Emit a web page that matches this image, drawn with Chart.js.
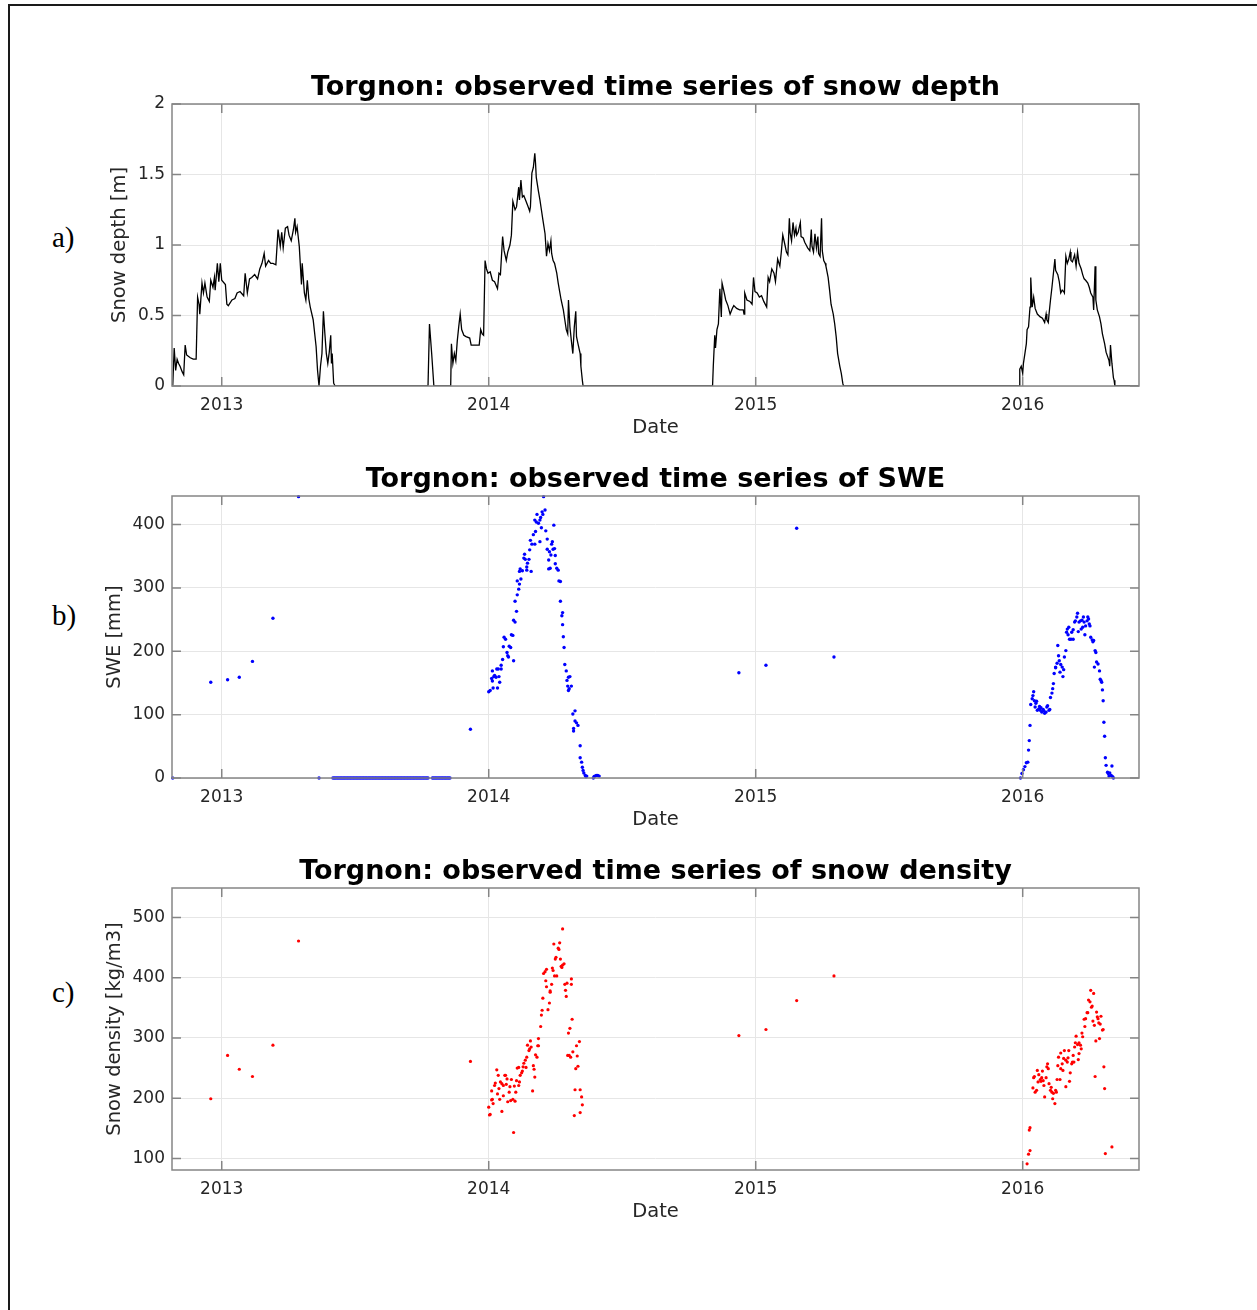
<!DOCTYPE html>
<html>
<head>
<meta charset="utf-8">
<title>Torgnon snow observations</title>
<script src="https://cdn.jsdelivr.net/npm/chart.js@4.4.0/dist/chart.umd.min.js"></script>
<style>
  body { margin: 0; background: #fff; }
  #page { position: relative; width: 1257px; height: 1310px; overflow: hidden; }
  #frame { position: absolute; left: 8px; top: 4px; width: 1300px; height: 1400px;
           border-top: 2px solid #1a1a1a; border-left: 2px solid #1a1a1a; }
  canvas { position: absolute; left: 0; }
  .tag { position: absolute; left: 52px; font: 29px/1 "Liberation Serif", "Times New Roman", serif; color: #000; }
</style>
</head>
<body>
<div id="page">
  <div id="frame"></div>
  <div class="tag" style="top:223px">a)</div>
  <div class="tag" style="top:601px">b)</div>
  <div class="tag" style="top:978px">c)</div>
  <canvas id="depth" width="1257" height="390" style="top:50px"></canvas>
  <canvas id="swe" width="1257" height="390" style="top:442px"></canvas>
  <canvas id="density" width="1257" height="390" style="top:834px"></canvas>
</div>
<script>
// x values are days counted from 1 Jan 2013
const xMin = -68;
const xMax = 1254;
const xTickDays = [0, 365, 730, 1095];
const xTickLabels = ["2013", "2014", "2015", "2016"];

const depthTicks = [0, 0.5, 1, 1.5, 2];
const depthTickLabels = ["0", "0.5", "1", "1.5", "2"];
const sweTicks = [0, 100, 200, 300, 400];
const sweTickLabels = ["0", "100", "200", "300", "400"];
const rhoTicks = [100, 200, 300, 400, 500];
const rhoTickLabels = ["100", "200", "300", "400", "500"];

// snow depth [m], [day, value]
const depth2013 = [[-67,0],[-65,0.27],[-63,0.11],[-61,0.19],[-59,0.16],[-57,0.14],[-54,0.10],[-52,0.08],[-50,0.29],[-48,0.22],[-43,0.20],[-39,0.19],[-35,0.19],[-33,0.63],[-31,0.58],[-30,0.51],[-27,0.73],[-25,0.66],[-23,0.73],[-20,0.63],[-17,0.60],[-15,0.75],[-12,0.70],[-10,0.77],[-9,0.68],[-6,0.87],[-4,0.74],[-2,0.87],[0,0.75],[5,0.72],[7,0.58],[9,0.57],[14,0.61],[18,0.62],[21,0.66],[25,0.67],[30,0.64],[32,0.80],[35,0.66],[38,0.76],[41,0.77],[45,0.79],[49,0.76],[52,0.83],[55,0.87],[58,0.94],[60,0.85],[64,0.89],[67,0.87],[70,0.87],[74,0.86],[77,1.11],[80,0.99],[82,1.09],[84,0.98],[87,1.12],[90,1.13],[92,1.07],[95,1.03],[98,1.11],[100,1.19],[101,1.09],[103,1.13],[106,0.99],[109,0.72],[110,0.87],[113,0.66],[115,0.61],[117,0.75],[119,0.62],[121,0.56],[125,0.47],[129,0.28],[131,0.11],[133,0],[135,0.14],[137,0.23],[139,0.53],[141,0.37],[143,0.23],[145,0.16],[147,0.24],[149,0.36],[150,0.16],[151,0.23],[153,0.02],[155,0],[282,0]];
const depth2014 = [[284,0.44],[287,0.23],[290,0],[313,0],[314,0.30],[316,0.16],[318,0.23],[320,0.18],[322,0.32],[324,0.42],[326,0.51],[328,0.40],[331,0.36],[334,0.35],[339,0.34],[341,0.29],[348,0.29],[352,0.29],[354,0.40],[356,0.37],[358,0.36],[360,0.89],[362,0.83],[364,0.80],[367,0.81],[370,0.75],[373,0.74],[377,0.69],[379,0.80],[381,0.79],[384,1.06],[386,0.96],[389,0.89],[391,0.95],[394,1.00],[396,1.07],[398,1.31],[401,1.25],[403,1.27],[406,1.41],[407,1.32],[409,1.46],[411,1.34],[413,1.35],[416,1.31],[419,1.27],[421,1.24],[422,1.27],[424,1.51],[426,1.55],[428,1.65],[429,1.58],[430,1.48],[433,1.38],[435,1.32],[437,1.25],[439,1.18],[442,1.08],[444,0.92],[446,1.01],[448,0.96],[450,1.03],[451,0.94],[453,0.89],[455,0.87],[458,0.80],[460,0.73],[462,0.67],[464,0.61],[467,0.54],[469,0.47],[471,0.40],[473,0.37],[474,0.61],[476,0.42],[478,0.32],[480,0.23],[482,0.42],[484,0.53],[485,0.35],[487,0.30],[490,0.23],[491,0.14],[493,0.04],[494,0],[671,0]];
const depth2015 = [[672,0.14],[674,0.36],[675,0.27],[677,0.40],[679,0.44],[681,0.69],[683,0.49],[684,0.73],[687,0.66],[689,0.61],[692,0.57],[695,0.51],[698,0.55],[700,0.57],[704,0.55],[708,0.54],[713,0.54],[714,0.51],[715,0.66],[718,0.61],[722,0.60],[725,0.58],[727,0.77],[729,0.67],[732,0.66],[735,0.63],[738,0.64],[741,0.60],[745,0.56],[747,0.77],[749,0.74],[752,0.83],[755,0.80],[757,0.74],[760,0.90],[763,0.85],[765,0.95],[767,1.07],[770,1.00],[772,0.95],[774,0.93],[776,1.19],[777,1.09],[779,1.03],[781,1.16],[783,1.07],[785,1.12],[786,1.07],[788,1.09],[791,1.16],[792,1.06],[795,1.05],[797,1.02],[799,1.00],[801,0.98],[804,0.96],[806,1.11],[807,0.99],[809,0.95],[811,1.08],[813,0.98],[815,1.06],[816,0.94],[818,0.92],[820,1.19],[821,0.96],[823,0.89],[825,0.87],[826,0.85],[829,0.77],[831,0.68],[833,0.58],[836,0.51],[838,0.44],[840,0.35],[842,0.23],[845,0.14],[847,0.09],[849,0.02],[850,0],[1090,0]];
const depth2016 = [[1091,0.12],[1093,0.14],[1095,0.09],[1096,0.16],[1098,0.23],[1100,0.30],[1101,0.40],[1103,0.42],[1105,0.56],[1106,0.77],[1108,0.56],[1110,0.63],[1112,0.55],[1115,0.51],[1119,0.49],[1122,0.48],[1125,0.45],[1127,0.51],[1128,0.47],[1130,0.45],[1131,0.51],[1133,0.61],[1135,0.70],[1137,0.80],[1139,0.90],[1140,0.82],[1143,0.79],[1145,0.74],[1147,0.66],[1149,0.68],[1151,0.67],[1152,0.66],[1154,0.92],[1156,0.87],[1158,0.90],[1160,0.95],[1161,0.89],[1163,0.88],[1166,0.93],[1168,0.85],[1170,0.95],[1172,0.87],[1175,0.83],[1177,0.79],[1179,0.76],[1181,0.75],[1184,0.73],[1186,0.70],[1188,0.66],[1191,0.63],[1192,0.54],[1194,0.85],[1195,0.61],[1197,0.54],[1200,0.49],[1202,0.44],[1204,0.37],[1207,0.30],[1209,0.24],[1211,0.21],[1213,0.18],[1214,0.14],[1215,0.29],[1217,0.16],[1219,0.06],[1220,0.04],[1221,0],[1254,0]];

// SWE [mm]
const sweEarly = [[-67,0],[-15,151],[8,155],[24,159],[42,184],[70,252],[105,444],[133,0]];
const sweSummer2013 = [[152,0],[154,0],[156,0],[158,0],[160,0],[162,0],[164,0],[166,0],[168,0],[170,0],[172,0],[174,0],[176,0],[178,0],[180,0],[182,0],[184,0],[186,0],[188,0],[190,0],[192,0],[194,0],[196,0],[198,0],[200,0],[202,0],[204,0],[206,0],[208,0],[210,0],[212,0],[214,0],[216,0],[218,0],[220,0],[222,0],[224,0],[226,0],[228,0],[230,0],[232,0],[234,0],[236,0],[238,0],[240,0],[242,0],[244,0],[246,0],[248,0],[250,0],[252,0],[254,0],[256,0],[258,0],[260,0],[262,0],[264,0],[266,0],[268,0],[270,0],[272,0],[274,0],[276,0],[278,0],[280,0],[282,0],[288,0],[290,0],[292,0],[294,0],[296,0],[298,0],[300,0],[302,0],[304,0],[306,0],[308,0],[310,0],[312,0]];
const swe2014 = [[340,77],[365,136],[367,138],[369,157],[370,153],[370,169],[371,142],[372,160],[373,162],[375,159],[376,172],[377,142],[378,172],[379,160],[380,151],[382,178],[382,172],[384,187],[385,207],[386,222],[388,219],[390,198],[391,193],[392,191],[393,208],[395,206],[396,226],[398,225],[399,185],[399,249],[401,246],[401,279],[403,263],[404,289],[404,311],[406,298],[407,306],[407,326],[408,330],[409,314],[411,327],[413,347],[414,353],[415,345],[417,333],[417,328],[418,339],[420,345],[421,360],[422,375],[423,326],[424,369],[426,384],[428,369],[428,407],[429,389],[430,404],[431,416],[433,402],[435,407],[435,373],[436,411],[437,395],[438,420],[439,416],[440,444],[442,423],[443,390],[445,377],[445,361],[447,344],[447,330],[448,357],[449,331],[450,352],[451,369],[452,373],[453,361],[454,399],[455,362],[456,351],[456,338],[458,331],[460,328],[461,311],[463,310],[463,279],[465,256],[466,261],[466,242],[467,223],[468,206],[469,179],[471,169],[472,154],[473,145],[474,159],[474,138],[475,141],[476,160],[478,145],[480,101],[481,74],[481,78],[483,106],[483,90],[485,87],[487,83],[490,51],[490,32],[492,25],[493,17],[494,12],[495,8],[497,4],[498,2],[499,3],[508,0],[509,2],[510,3],[512,4],[514,4],[516,3]];
const swe2015 = [[707,166],[744,178],[786,394],[837,191]];
const swe2016 = [[1092,0],[1094,7],[1096,13],[1098,18],[1100,24],[1102,25],[1103,44],[1104,59],[1105,83],[1106,116],[1108,125],[1109,130],[1110,136],[1111,122],[1112,112],[1113,118],[1114,121],[1115,107],[1117,109],[1118,113],[1119,107],[1120,111],[1121,104],[1123,108],[1124,106],[1125,102],[1127,104],[1128,112],[1129,114],[1131,107],[1132,108],[1133,127],[1135,134],[1136,141],[1137,149],[1138,165],[1140,174],[1140,175],[1142,181],[1143,209],[1144,193],[1145,185],[1146,167],[1147,179],[1149,175],[1150,160],[1151,171],[1152,191],[1154,201],[1155,230],[1156,235],[1157,226],[1158,238],[1159,219],[1161,219],[1162,230],[1164,234],[1164,219],[1166,246],[1167,248],[1169,254],[1170,260],[1171,231],[1172,246],[1174,248],[1175,235],[1176,249],[1177,238],[1178,254],[1179,246],[1180,226],[1181,240],[1183,248],[1184,254],[1185,251],[1186,243],[1187,240],[1188,222],[1190,218],[1191,215],[1192,217],[1193,175],[1194,201],[1195,198],[1196,183],[1198,180],[1200,169],[1201,156],[1202,154],[1203,151],[1204,139],[1205,122],[1206,88],[1207,66],[1208,32],[1209,20],[1211,9],[1212,7],[1213,3],[1214,8],[1216,4],[1217,19],[1218,2],[1219,0]];

// snow density [kg/m3]
const rhoEarly = [[-15,199],[8,271],[24,248],[42,236],[70,288],[105,461],[340,261]];
const rho2014 = [[365,185],[366,172],[367,173],[369,197],[369,212],[370,198],[371,191],[373,221],[374,225],[376,247],[377,207],[378,238],[379,216],[380,198],[381,227],[383,178],[383,224],[385,204],[385,221],[387,238],[388,238],[389,223],[390,232],[391,194],[393,210],[394,219],[395,196],[396,231],[398,198],[399,143],[400,220],[401,195],[402,210],[403,229],[404,250],[406,251],[406,221],[407,227],[408,238],[410,242],[411,245],[412,252],[413,258],[415,263],[416,251],[417,268],[418,288],[420,279],[421,282],[422,295],[423,285],[425,212],[426,254],[427,248],[428,235],[429,272],[431,268],[432,287],[433,287],[433,299],[436,319],[437,338],[438,346],[439,366],[440,407],[442,410],[443,395],[444,385],[444,414],[446,347],[448,358],[449,376],[449,378],[451,389],[452,416],[453,412],[454,456],[455,403],[456,431],[457,434],[458,403],[460,449],[461,447],[462,458],[463,431],[464,419],[465,417],[466,481],[466,421],[468,423],[469,389],[470,379],[471,369],[472,391],[473,271],[474,308],[475,271],[476,316],[477,268],[478,398],[478,389],[479,331],[480,277],[482,171],[483,214],[484,249],[485,287],[486,270],[487,253],[489,294],[490,214],[490,176],[492,202],[493,189]];
const rho2015 = [[707,304],[744,314],[786,362],[837,403]];
const rho2016 = [[1101,91],[1103,107],[1104,147],[1105,113],[1105,151],[1109,217],[1110,234],[1111,236],[1112,210],[1114,213],[1115,246],[1116,227],[1117,239],[1119,231],[1120,228],[1121,234],[1122,245],[1123,229],[1124,221],[1125,202],[1127,234],[1128,252],[1129,257],[1130,249],[1131,224],[1133,213],[1134,218],[1135,210],[1136,199],[1137,208],[1139,191],[1140,213],[1141,210],[1142,231],[1143,254],[1144,268],[1146,231],[1147,249],[1147,275],[1149,257],[1150,246],[1151,266],[1152,279],[1154,219],[1154,263],[1156,260],[1157,267],[1158,279],[1159,228],[1160,242],[1162,257],[1163,260],[1164,271],[1165,260],[1166,285],[1167,292],[1168,303],[1170,289],[1171,264],[1172,274],[1172,292],[1174,288],[1175,282],[1176,308],[1177,302],[1179,331],[1180,319],[1181,332],[1183,342],[1184,342],[1185,363],[1187,360],[1188,379],[1189,351],[1190,353],[1191,328],[1192,374],[1193,321],[1194,236],[1195,295],[1196,343],[1197,335],[1198,332],[1199,325],[1200,299],[1201,323],[1202,336],[1204,313],[1205,314],[1206,252],[1207,216],[1208,108],[1217,119]];

Chart.defaults.font.family = "'DejaVu Sans', sans-serif";

const toXY = (...parts) => parts.flat().map(([x, y]) => ({ x, y }));

// matlab-like box with inward ticks on all four sides
const boxPlugin = {
  id: "box",
  afterDatasetsDraw(chart, args, opts) {
    const { ctx, chartArea: a, scales: { x, y } } = chart;
    ctx.save();
    ctx.strokeStyle = "#858585";
    ctx.lineWidth = 1.5;
    ctx.beginPath();
    opts.xTicks.forEach(v => {
      const px = x.getPixelForValue(v);
      ctx.moveTo(px, a.bottom); ctx.lineTo(px, a.bottom - 9);
      ctx.moveTo(px, a.top); ctx.lineTo(px, a.top + 9);
    });
    opts.yTicks.forEach(v => {
      const py = y.getPixelForValue(v);
      ctx.moveTo(a.left, py); ctx.lineTo(a.left + 9, py);
      ctx.moveTo(a.right, py); ctx.lineTo(a.right - 9, py);
    });
    ctx.stroke();
    ctx.strokeRect(a.left, a.top, a.right - a.left, a.bottom - a.top);
    ctx.restore();
  }
};

function makePanel(id, title, yTitle, yMin, yMax, yTicks, yLabels, yTitlePad, dataset) {
  return new Chart(document.getElementById(id), {
    type: "scatter",
    data: { datasets: [dataset] },
    plugins: [boxPlugin],
    options: {
      responsive: false,
      animation: false,
      devicePixelRatio: 1,
      layout: { padding: { left: 92, right: 118, top: 0, bottom: 0 } },
      plugins: {
        legend: { display: false },
        tooltip: { enabled: false },
        title: {
          display: true, text: title, fullSize: false, color: "#000",
          font: { size: 27, weight: "bold" }, padding: { top: 21.6, bottom: 0 }
        },
        box: { xTicks: xTickDays, yTicks: yTicks }
      },
      scales: {
        x: {
          type: "linear", min: xMin, max: xMax,
          afterBuildTicks: s => { s.ticks = xTickDays.map(v => ({ value: v })); },
          afterFit: s => { s.height = 54; },
          ticks: { callback: (v, i) => xTickLabels[i], color: "#262626", font: { size: 17 },
                   padding: 9, maxRotation: 0, autoSkip: false },
          grid: { color: "#e6e6e6", drawTicks: false },
          border: { display: false },
          title: { display: true, text: "Date", color: "#262626", font: { size: 19.5 }, padding: 0 }
        },
        y: {
          type: "linear", min: yMin, max: yMax,
          afterBuildTicks: s => { s.ticks = yTicks.map(v => ({ value: v })); },
          afterFit: s => { s.width = 80; },
          ticks: { callback: (v, i) => yLabels[i], color: "#262626", font: { size: 17 }, padding: 7 },
          grid: { color: "#e6e6e6", drawTicks: false },
          border: { display: false },
          title: { display: true, text: yTitle, color: "#262626", font: { size: 19.5 },
                   padding: { top: yTitlePad, bottom: 0 } }
        }
      }
    }
  });
}

makePanel("depth", "Torgnon: observed time series of snow depth", "Snow depth [m]",
  0, 2, depthTicks, depthTickLabels, 16.3, {
    data: toXY(depth2013, depth2014, depth2015, depth2016),
    showLine: true, borderColor: "#000", borderWidth: 1.3, pointRadius: 0, tension: 0
  });

makePanel("swe", "Torgnon: observed time series of SWE", "SWE [mm]",
  0, 445, sweTicks, sweTickLabels, 10.9, {
    data: toXY(sweEarly, sweSummer2013, swe2014, swe2015, swe2016),
    backgroundColor: "#0000ff", borderWidth: 0, pointRadius: 1.7, clip: 4
  });

makePanel("density", "Torgnon: observed time series of snow density", "Snow density [kg/m3]",
  80.7, 549, rhoTicks, rhoTickLabels, 10.9, {
    data: toXY(rhoEarly, rho2014, rho2015, rho2016),
    backgroundColor: "#ff0000", borderWidth: 0, pointRadius: 1.6, clip: 4
  });
</script>
</body>
</html>
